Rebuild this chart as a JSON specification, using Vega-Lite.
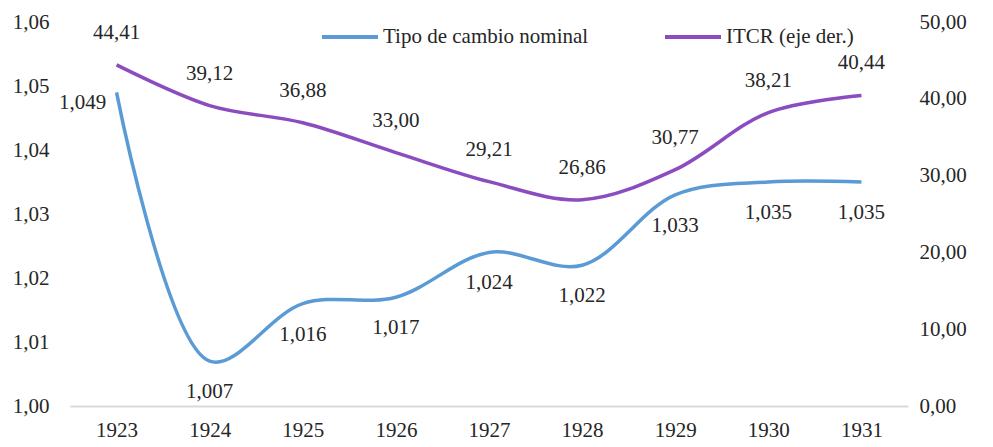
{
  "$schema": "https://vega.github.io/schema/vega-lite/v6.json",
  "width": 838,
  "height": 384,
  "autosize": "none",
  "padding": {"left": 70, "top": 22, "right": 85, "bottom": 41},
  "background": "white",
  "config": {
    "locale": {"number": {"decimal": ",", "thousands": ".", "grouping": [3], "currency": ["$", ""]}},
    "font": "Liberation Serif",
    "text": {"font": "Liberation Serif"},
    "legend": {"labelFont": "Liberation Serif"},
    "view": {"stroke": null},
    "axis": {"labelFont": "Liberation Serif", "labelFontSize": 21, "labelColor": "#262626", "grid": false, "ticks": false, "title": null}
  },
  "data": {"values": [
    {"year": "1923", "tcn": 1.049, "itcr": 44.41},
    {"year": "1924", "tcn": 1.007, "itcr": 39.12},
    {"year": "1925", "tcn": 1.016, "itcr": 36.88},
    {"year": "1926", "tcn": 1.017, "itcr": 33.00},
    {"year": "1927", "tcn": 1.024, "itcr": 29.21},
    {"year": "1928", "tcn": 1.022, "itcr": 26.86},
    {"year": "1929", "tcn": 1.033, "itcr": 30.77},
    {"year": "1930", "tcn": 1.035, "itcr": 38.21},
    {"year": "1931", "tcn": 1.035, "itcr": 40.44}
  ]},
  "encoding": {
    "x": {"field": "year", "type": "ordinal", "scale": {"type": "point", "padding": 0.5},
      "axis": {"labelAngle": 0, "domainColor": "#d9d9d9", "domainWidth": 2, "labelPadding": 13, "domainCap": "butt"}}
  },
  "layer": [
    {
      "encoding": {
        "y": {"field": "tcn", "type": "quantitative",
          "scale": {"domain": [1.0, 1.06], "nice": false, "zero": false},
          "axis": {"orient": "left", "values": [1.0, 1.01, 1.02, 1.03, 1.04, 1.05, 1.06], "format": ".2f", "domain": false, "labelPadding": 21}}
      },
      "layer": [
        {"mark": {"type": "line", "interpolate": "catmull-rom", "strokeWidth": 3.5},
          "encoding": {"color": {"datum": "Tipo de cambio nominal", "type": "nominal",
            "scale": {"domain": ["Tipo de cambio nominal", "ITCR (eje der.)"], "range": ["#5B9BD5", "#8A4CBF"]},
            "legend": {"orient": "none", "legendX": 250, "legendY": -15, "direction": "horizontal", "title": null,
              "symbolType": "stroke", "symbolSize": 3136, "symbolStrokeWidth": 4, "labelFontSize": 21, "labelColor": "#262626", "columnPadding": 68, "labelOffset": 3, "labelLimit": 400}}}},
        {"transform": [{"filter": "datum.year == '1923'"}],
          "mark": {"type": "text", "fontSize": 21, "color": "#262626", "dx": -34, "dy": 11},
          "encoding": {"text": {"field": "tcn", "type": "quantitative", "format": ".3f"}}},
        {"transform": [{"filter": "datum.year != '1923'"}],
          "mark": {"type": "text", "fontSize": 21, "color": "#262626", "dy": 31},
          "encoding": {"text": {"field": "tcn", "type": "quantitative", "format": ".3f"}}}
      ]
    },
    {
      "encoding": {
        "y": {"field": "itcr", "type": "quantitative",
          "scale": {"domain": [0, 50], "nice": false},
          "axis": {"orient": "right", "values": [0, 10, 20, 30, 40, 50], "format": ".2f", "domain": false, "labelPadding": 11}}
      },
      "layer": [
        {"mark": {"type": "line", "interpolate": "catmull-rom", "strokeWidth": 3.5},
          "encoding": {"color": {"datum": "ITCR (eje der.)", "type": "nominal"}}},
        {"mark": {"type": "text", "fontSize": 21, "color": "#262626", "dy": -32},
          "encoding": {"text": {"field": "itcr", "type": "quantitative", "format": ".2f"}}}
      ]
    }
  ],
  "resolve": {"scale": {"y": "independent"}}
}
